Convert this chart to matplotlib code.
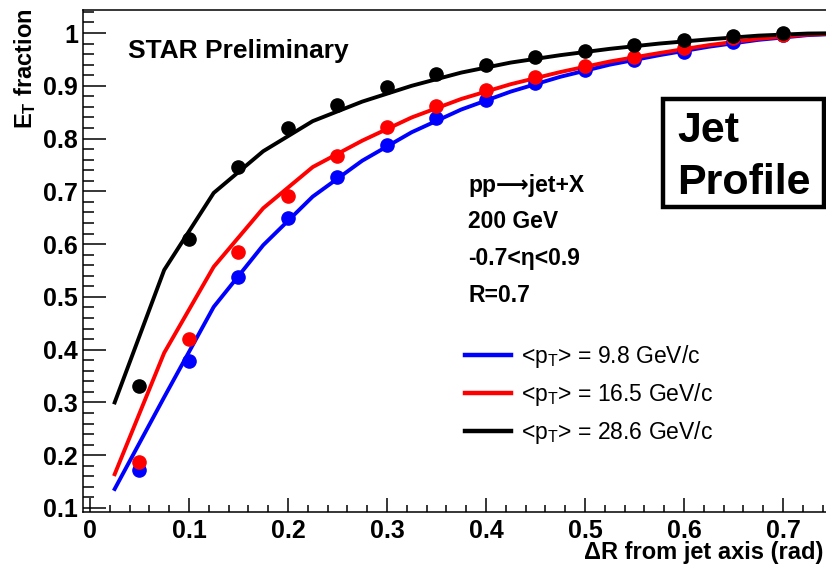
import matplotlib
matplotlib.use('Agg')
import matplotlib.pyplot as plt
from matplotlib.patches import Rectangle
from matplotlib.ticker import MultipleLocator, FuncFormatter

plt.rcParams['font.family'] = ['Liberation Sans', 'DejaVu Sans']
plt.rcParams['mathtext.fontset'] = 'custom'
plt.rcParams['mathtext.rm'] = 'Liberation Sans'
plt.rcParams['mathtext.bf'] = 'Liberation Sans:bold'

# measured jet profile (points)
dr = [0.05, 0.10, 0.15, 0.20, 0.25, 0.30, 0.35, 0.40, 0.45, 0.50, 0.55, 0.60, 0.65, 0.70]
et_low = [0.172, 0.379, 0.538, 0.649, 0.727, 0.788, 0.839, 0.873, 0.905, 0.930, 0.949, 0.964, 0.983, 0.996]
et_mid = [0.187, 0.420, 0.585, 0.691, 0.767, 0.822, 0.862, 0.892, 0.917, 0.938, 0.955, 0.972, 0.990, 0.996]
et_high = [0.331, 0.610, 0.746, 0.820, 0.864, 0.898, 0.922, 0.939, 0.954, 0.966, 0.977, 0.987, 0.994, 1.000]

# simulation curves
dr_sim = [0.025, 0.075, 0.125, 0.175, 0.225, 0.275, 0.325, 0.375, 0.425, 0.475, 0.525, 0.575, 0.625, 0.675, 0.725, 0.775]
sim_low = [0.136, 0.310, 0.481, 0.598, 0.690, 0.758, 0.812, 0.855, 0.889, 0.917, 0.940, 0.958, 0.974, 0.987, 0.996, 1.0]
sim_mid = [0.164, 0.394, 0.557, 0.668, 0.746, 0.796, 0.840, 0.875, 0.903, 0.926, 0.946, 0.962, 0.977, 0.989, 0.997, 1.0]
sim_high = [0.300, 0.551, 0.697, 0.776, 0.833, 0.870, 0.900, 0.925, 0.944, 0.958, 0.970, 0.980, 0.988, 0.995, 0.999, 1.0]

labels = ['<p$_{\\mathrm{T}}$> = 9.8 GeV/c', '<p$_{\\mathrm{T}}$> = 16.5 GeV/c', '<p$_{\\mathrm{T}}$> = 28.6 GeV/c']
colors = ['#0000ff', '#ff0000', '#000000']

W, H = 826, 565
fig = plt.figure(figsize=(W / 100, H / 100), dpi=100)
ax = fig.add_axes([83 / W, 53 / H, 749 / W, 502 / H])

handles = []
for pts, sim, col, lab in zip([et_low, et_mid, et_high], [sim_low, sim_mid, sim_high], colors, labels):
    ln, = ax.plot(dr_sim, sim, color=col, lw=2.8, label=lab, zorder=2)
    ax.plot(dr, pts, 'o', color=col, ms=9.5, zorder=3)
    handles.append(ln)

ax.set_xlim(-0.007, 0.7495)
ax.set_ylim(0.0924, 1.0436)

ax.xaxis.set_major_locator(MultipleLocator(0.1))
ax.xaxis.set_minor_locator(MultipleLocator(0.02))
ax.yaxis.set_major_locator(MultipleLocator(0.1))
ax.yaxis.set_minor_locator(MultipleLocator(0.02))
fmt = FuncFormatter(lambda v, p: f'{v:g}')
ax.xaxis.set_major_formatter(fmt)
ax.yaxis.set_major_formatter(fmt)

ax.tick_params(axis='y', which='major', direction='in', length=16.5, width=1.1, pad=3.5, labelsize=18)
ax.tick_params(axis='y', which='minor', direction='in', length=8, width=1.1)
ax.tick_params(axis='x', which='major', direction='in', length=10, width=1.1, pad=5, labelsize=18)
ax.tick_params(axis='x', which='minor', direction='in', length=5, width=1.1)
for lab in ax.get_xticklabels() + ax.get_yticklabels():
    lab.set_fontweight('bold')

ax.spines['right'].set_visible(False)
for s in ['left', 'bottom', 'top']:
    ax.spines[s].set_linewidth(1.1)

leg = ax.legend(handles=handles, loc='center left', bbox_to_anchor=(465 / W, 1 - 395 / H),
                bbox_transform=fig.transFigure, frameon=False, fontsize=16.5,
                handlelength=2.0, handletextpad=0.45, labelspacing=0.48,
                borderpad=0, borderaxespad=0)
for h in leg.get_lines():
    h.set_linewidth(3.2)

fig.text(128 / W, 1 - 58 / H, 'STAR Preliminary', fontsize=19, fontweight='bold', va='baseline')

info = ['pp\u27f6jet+X', '200 GeV', '-0.7<\u03b7<0.9', 'R=0.7']
for txt, base in zip(info, [192, 228, 265, 302]):
    fig.text(468 / W, 1 - base / H, txt, fontsize=16.5, fontweight='bold', va='baseline')

fig.patches.append(Rectangle((663 / W, 1 - 207 / H), 161 / W, 108 / H, transform=fig.transFigure,
                             facecolor='white', edgecolor='black', lw=3.2, zorder=5))
fig.text(677 / W, 1 - 142 / H, 'Jet', fontsize=31, fontweight='bold', va='baseline', zorder=6)
fig.text(677 / W, 1 - 194 / H, 'Profile', fontsize=31, fontweight='bold', va='baseline', zorder=6)

fig.text(25 / W, 1 - 8 / H, '$\\mathbf{E_{T}}$ fraction', fontsize=17, fontweight='bold',
         rotation=90, ha='center', va='top')
fig.text(823 / W, 1 - 552 / H, '\u0394R from jet axis (rad)', fontsize=17, fontweight='bold',
         ha='right', va='center')

fig.savefig('out.png', dpi=100)
